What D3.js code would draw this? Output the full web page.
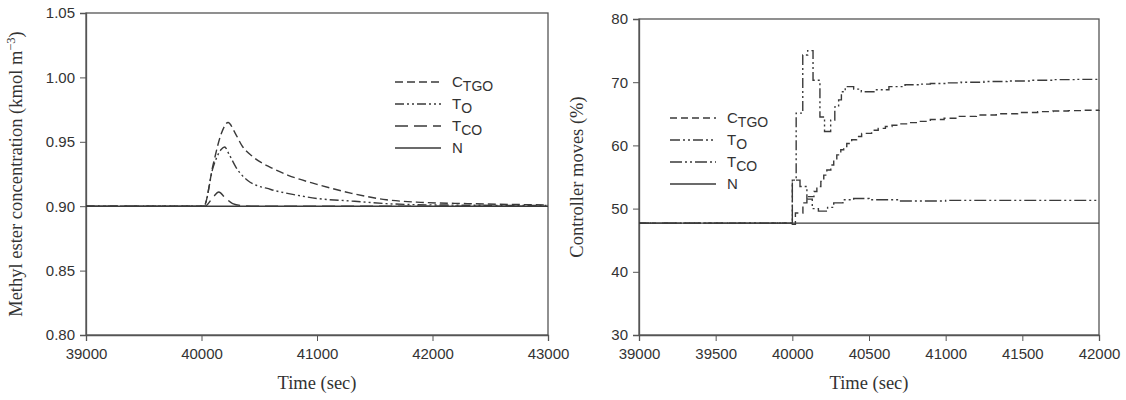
<!DOCTYPE html>
<html>
<head>
<meta charset="utf-8">
<script src="https://cdn.jsdelivr.net/npm/d3@7"></script>
<style>
  body { margin: 0; background: #fff; }
  svg text { fill: #333; }
</style>
</head>
<body>
<div id="chart"></div>
<script>
// ---- left panel: methyl ester concentration ----
var leftTicksX = [39000, 40000, 41000, 42000, 43000]
var leftTicksY = [0.80, 0.85, 0.90, 0.95, 1.00, 1.05]

var ctgoT = [39000, 40000, 40020, 40100, 40170, 40230, 40290, 40350, 40450, 40600, 40750, 41000, 41300, 41600, 41900, 42300, 43000]
var ctgoV = [0.900, 0.900, 0.900, 0.932, 0.956, 0.965, 0.957, 0.947, 0.938, 0.930, 0.924, 0.917, 0.910, 0.905, 0.903, 0.902, 0.901]

var toT = [39000, 40000, 40020, 40100, 40170, 40200, 40240, 40300, 40400, 40600, 40800, 41000, 41300, 41600, 42000, 43000]
var toV = [0.900, 0.900, 0.900, 0.930, 0.944, 0.946, 0.940, 0.930, 0.920, 0.913, 0.909, 0.906, 0.904, 0.902, 0.901, 0.9005]

var tcoT = [39000, 40000, 40030, 40100, 40150, 40200, 40270, 40350, 40500, 43000]
var tcoV = [0.900, 0.900, 0.900, 0.907, 0.911, 0.907, 0.902, 0.9005, 0.900, 0.900]

var nT = [39000, 43000]
var nV = [0.900, 0.900]

// ---- right panel: controller moves ----
var rightTicksX = [39000, 39500, 40000, 40500, 41000, 41500, 42000]
var rightTicksY = [30, 40, 50, 60, 70, 80]

var ctgoRT = [39000, 40000, 40020, 40069, 40095, 40141, 40160, 40186, 40205, 40225, 40251, 40270, 40290, 40316, 40335, 40355, 40387, 40419, 40452, 40517, 40560, 40607, 40650, 40691, 40750, 40821, 40900, 40990, 41080, 41200, 41330, 41469, 41600, 41700, 41800, 41900, 42000]
var ctgoRV = [47.7, 47.5, 49.3, 50.9, 51.9, 52.7, 53.5, 54.3, 55.3, 56.1, 56.9, 57.7, 58.5, 59.3, 59.8, 60.3, 60.9, 61.4, 61.9, 62.4, 62.7, 63.0, 63.2, 63.4, 63.6, 63.8, 64.1, 64.3, 64.6, 64.8, 65.0, 65.2, 65.35, 65.45, 65.5, 65.55, 65.6]

var toRT = [39000, 40000, 40025, 40068, 40100, 40135, 40180, 40210, 40250, 40277, 40302, 40320, 40345, 40400, 40450, 40540, 40630, 40735, 40820, 40900, 41000, 41100, 41250, 41400, 41550, 41700, 41850, 42000]
var toRV = [47.7, 54.5, 65.1, 74.3, 75.0, 70.3, 64.5, 62.2, 64.0, 66.1, 67.2, 68.5, 69.3, 68.9, 68.5, 68.8, 69.3, 69.6, 69.7, 69.8, 69.9, 70.0, 70.1, 70.2, 70.3, 70.4, 70.45, 70.5]

var tcoRT = [39000, 40000, 40050, 40095, 40130, 40170, 40230, 40270, 40330, 40400, 40500, 40700, 41000, 42000]
var tcoRV = [47.7, 54.5, 53.5, 51.5, 50.0, 49.6, 50.2, 50.9, 51.4, 51.6, 51.4, 51.2, 51.3, 51.3]

var nRT = [39000, 42000]
var nRV = [47.7, 47.7]

var seriesNames = ['C', 'T', 'T', 'N']
var seriesSubs = ['TGO', 'O', 'CO', '']

var lineColor = '#3a3a3a'
var axisColor = '#555'

var svg = d3.select('#chart').append('svg')
    .attr('width', 1126)
    .attr('height', 400)

function zip(ts, vs) {
    return ts.map(function (t, i) { return { t: t, v: vs[i] } })
}

function drawPanel(opt) {
    var x = d3.scaleLinear().domain(opt.xDomain).range([opt.left, opt.right])
    var y = d3.scaleLinear().domain(opt.yDomain).range([opt.bottom, opt.top])

    // frame
    svg.append('rect')
        .attr('x', opt.left).attr('y', opt.top)
        .attr('width', opt.right - opt.left).attr('height', opt.bottom - opt.top)
        .attr('fill', 'none').attr('stroke', axisColor).attr('stroke-width', 1.3)

    var xAxis = svg.append('g')
        .attr('transform', 'translate(0,' + opt.bottom + ')')
        .call(d3.axisBottom(x).tickValues(opt.xTicks).tickFormat(d3.format('d')).tickSizeOuter(0).tickSize(6).tickPadding(7))
    var yAxis = svg.append('g')
        .attr('transform', 'translate(' + opt.left + ',0)')
        .call(d3.axisLeft(y).tickValues(opt.yTicks).tickFormat(opt.yFormat).tickSizeOuter(0).tickSize(6).tickPadding(5))

    ;[xAxis, yAxis].forEach(function (a) {
        a.select('.domain').attr('stroke', axisColor).attr('stroke-width', 1.3)
        a.selectAll('.tick line').attr('stroke', axisColor)
        a.selectAll('.tick text')
            .attr('font-family', 'Liberation Sans, Arial, sans-serif')
            .attr('font-size', 15)
            .attr('fill', '#444')
    })

    var line = d3.line()
        .x(function (d) { return x(d.t) })
        .y(function (d) { return y(d.v) })
        .curve(opt.curve)

    opt.series.forEach(function (s) {
        svg.append('path')
            .datum(s.data)
            .attr('d', line)
            .attr('fill', 'none')
            .attr('stroke', lineColor)
            .attr('stroke-width', 1.4)
            .attr('stroke-dasharray', s.dash)
    })

    // legend
    opt.series.forEach(function (s, i) {
        var ly = opt.legendY + i * 22
        svg.append('line')
            .attr('x1', opt.legendX).attr('x2', opt.legendX + 46)
            .attr('y1', ly).attr('y2', ly)
            .attr('stroke', lineColor).attr('stroke-width', 1.6)
            .attr('stroke-dasharray', s.dash)
        var t = svg.append('text')
            .attr('x', opt.legendX + 57).attr('y', ly + 5)
            .attr('font-family', 'Liberation Sans, Arial, sans-serif')
            .attr('font-size', 15)
        t.append('tspan').text(seriesNames[i])
        if (seriesSubs[i]) {
            t.append('tspan').attr('dy', 4).attr('font-size', 14).text(seriesSubs[i])
        }
    })

    // titles
    svg.append('text')
        .attr('x', (opt.left + opt.right) / 2).attr('y', 389)
        .attr('text-anchor', 'middle')
        .attr('font-family', 'Liberation Serif, Times New Roman, serif')
        .attr('font-size', 18.5)
        .text('Time (sec)')

    var yt = svg.append('text')
        .attr('transform', 'translate(' + opt.yTitleX + ',' + (opt.top + opt.bottom) / 2 + ') rotate(-90)')
        .attr('text-anchor', 'middle')
        .attr('font-family', 'Liberation Serif, Times New Roman, serif')
        .attr('font-size', 18.5)
    yt.append('tspan').text(opt.yTitle)
    if (opt.yTitleSup) {
        yt.append('tspan').attr('dy', -7).attr('font-size', 12.5).text(opt.yTitleSup)
        yt.append('tspan').attr('dy', 7).text(')')
    }
}

drawPanel({
    left: 86, right: 548, top: 13, bottom: 335,
    xDomain: [39000, 43000], yDomain: [0.80, 1.05],
    xTicks: leftTicksX, yTicks: leftTicksY, yFormat: d3.format('.2f'),
    curve: d3.curveMonotoneX,
    series: [
        { data: zip(ctgoT, ctgoV), dash: '8,4' },
        { data: zip(toT, toV), dash: '9,3,2,3,2,3' },
        { data: zip(tcoT, tcoV), dash: '13,6' },
        { data: zip(nT, nV), dash: null }
    ],
    legendX: 395, legendY: 82,
    yTitle: 'Methyl ester concentration (kmol m', yTitleSup: '\u22123',
    yTitleX: 22
})

drawPanel({
    left: 639, right: 1099, top: 19, bottom: 335,
    xDomain: [39000, 42000], yDomain: [30, 80],
    xTicks: rightTicksX, yTicks: rightTicksY, yFormat: d3.format('d'),
    curve: d3.curveStepAfter,
    series: [
        { data: zip(ctgoRT, ctgoRV), dash: '7,4' },
        { data: zip(toRT, toRV), dash: '10,3,2,3,2,3' },
        { data: zip(tcoRT, tcoRV), dash: '12,3,2,3,2,3' },
        { data: zip(nRT, nRV), dash: null }
    ],
    legendX: 670, legendY: 118,
    yTitle: 'Controller moves (%)',
    yTitleX: 583
})
</script>
</body>
</html>
